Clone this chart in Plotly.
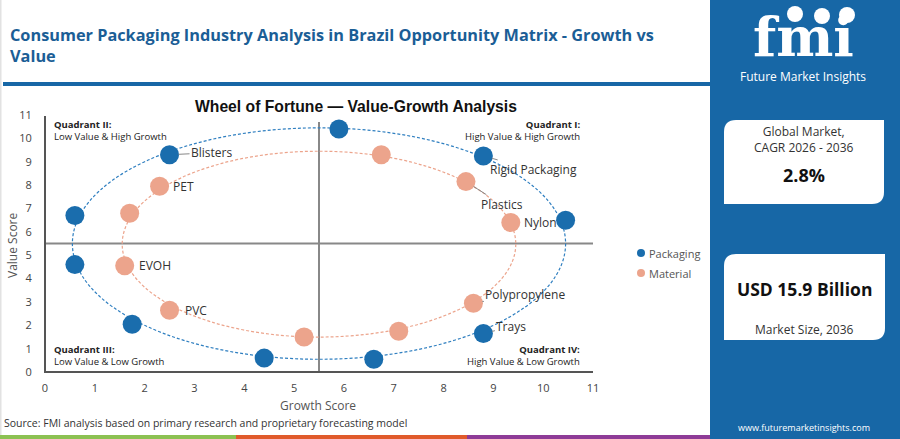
import plotly.graph_objects as go

# Packaging ring
packaging_growth = [5.9, 2.5, 8.8, 10.45, 0.6, 0.6, 1.75, 4.4, 6.6, 8.8]
packaging_value = [10.4, 9.3, 9.25, 6.5, 6.7, 4.6, 2.05, 0.6, 0.55, 1.65]
packaging_labels = ["", "Blisters", "Rigid Packaging", "", "", "", "", "", "", "Trays"]

# Material ring
material_growth = [6.75, 8.45, 9.35, 2.3, 1.7, 1.6, 2.5, 5.2, 7.1, 8.6]
material_value = [9.3, 8.15, 6.4, 7.95, 6.8, 4.55, 2.65, 1.5, 1.75, 2.95]
material_labels = ["", "Plastics", "Nylon", "PET", "", "EVOH", "PVC", "", "", "Polypropylene"]

x_ticks = list(range(0, 12))
y_ticks = list(range(0, 12))

BLUE = "#1a6dad"
SALMON = "#eca48c"
PANEL = "#1767a6"
TXT = "#333333"
FONT = "Open Sans"

W, H = 900, 439
ML, MR, MT, MB = 43, 307, 115, 65
PW, PH = W - ML - MR, H - MT - MB
X_RANGE = [-0.04, 11]
Y_RANGE = [-0.08, 11]


# pixel position in the picture -> paper coordinates (plot area based)
def px(x):
    return (x - ML) / PW


def py(y):
    return (H - MB - y) / PH


fig = go.Figure()

fig.add_trace(go.Scatter(
    x=packaging_growth, y=packaging_value, mode="markers", name="Packaging",
    marker=dict(size=19, color=BLUE), hoverinfo="skip"))
fig.add_trace(go.Scatter(
    x=material_growth, y=material_value, mode="markers", name="Material",
    marker=dict(size=19, color=SALMON), hoverinfo="skip"))

# label placement: (ax, ay, arrow)
label_pos = {
    "Blisters": (42, -2, True),
    "Rigid Packaging": (50, 14, True),
    "Trays": (28, -7, True),
    "Plastics": (36, 23, True),
    "Nylon": (30, 0, False),
    "PET": (24, 0, False),
    "EVOH": (30, 0, False),
    "PVC": (26, 0, False),
    "Polypropylene": (52, -9, True),
}

annotations = []
for gx, gy, lab in list(zip(packaging_growth, packaging_value, packaging_labels)) + \
        list(zip(material_growth, material_value, material_labels)):
    if not lab:
        continue
    ax, ay, arrow = label_pos[lab]
    if arrow:
        annotations.append(dict(x=gx, y=gy, text=lab, showarrow=True, arrowhead=0,
                                arrowwidth=1, arrowcolor="#888", ax=ax, ay=ay,
                                standoff=9, font=dict(size=12, color=TXT, family=FONT)))
    else:
        annotations.append(dict(x=gx, y=gy, text=lab, showarrow=False,
                                xshift=ax, font=dict(size=12, color=TXT, family=FONT)))

# quadrant labels
quads = [
    (0.14, 10.95, "left", "Quadrant II:", "Low Value & High Growth"),
    (10.77, 10.95, "right", "Quadrant I:", "High Value & High Growth"),
    (0.14, 1.35, "left", "Quadrant III:", "Low Value & Low Growth"),
    (10.77, 1.35, "right", "Quadrant IV:", "High Value & Low Growth"),
]
for qx, qy, anc, head, sub in quads:
    annotations.append(dict(x=qx, y=qy, xref="x", yref="y", xanchor=anc, yanchor="top",
                            align=anc, showarrow=False,
                            text=f"<b>{head}</b><br>{sub}",
                            font=dict(size=9.5, color="#222", family=FONT)))


def note(x, y, text, size, color, family=FONT, anchor="center", angle=0):
    return dict(x=px(x), y=py(y), xref="paper", yref="paper", xanchor=anchor,
                yanchor="middle", align=anchor if anchor != "center" else "center",
                showarrow=False, textangle=angle,
                text=text, font=dict(size=size, color=color, family=family))


annotations += [
    note(8, 45,
         "<b>Consumer Packaging Industry Analysis in Brazil Opportunity Matrix - Growth vs<br>Value</b>",
         16.3, "#1b5e96", anchor="left"),
    note(356, 106, "<b>Wheel of Fortune — Value-Growth Analysis</b>", 15.7, "#111",
         family="Liberation Sans"),
    note(318, 405, "Growth Score", 12, "#555"),
    note(12, 245, "Value Score", 12, "#555", angle=-90),
    note(2, 423, "Source: FMI analysis based on primary research and proprietary forecasting model",
         10.5, TXT, anchor="left"),
    # manual legend
    note(647, 253, "Packaging", 11, "#555", anchor="left"),
    note(647, 273, "Material", 11, "#555", anchor="left"),
    # right panel
    note(803, 37, "<b>fmi</b>", 54, "white", family="DejaVu Serif"),
    note(803, 76, "Future Market Insights", 12, "white"),
    note(804, 139, "Global Market,<br>CAGR 2026 - 2036", 12, TXT),
    note(804, 175, "<b>2.8%</b>", 18, "#111"),
    note(804, 289, "<b>USD 15.9 Billion</b>", 17.5, "#111"),
    note(804, 329, "Market Size, 2036", 12, TXT),
    note(804, 427, "www.futuremarketinsights.com", 9, "white"),
]


def card(x0, y0, x1, y1, r=12):
    rx, ry = r / PW, r / PH
    X0, X1, Y0, Y1 = px(x0), px(x1), py(y0), py(y1)
    return (f"M {X0 + rx},{Y0} L {X1},{Y0} L {X1},{Y1 + ry} Q {X1},{Y1} {X1 - rx},{Y1} "
            f"L {X0},{Y1} L {X0},{Y0 - ry} Q {X0},{Y0} {X0 + rx},{Y0} Z")


def rect(x0, y0, x1, y1, color, layer="below"):
    return dict(type="rect", xref="paper", yref="paper", x0=px(x0), x1=px(x1),
                y0=py(y1), y1=py(y0), fillcolor=color, line=dict(width=0), layer=layer)


def dot(cx, cy, r, color):
    return dict(type="circle", xref="paper", yref="paper",
                x0=px(cx - r), x1=px(cx + r), y0=py(cy + r), y1=py(cy - r),
                fillcolor=color, line=dict(width=0))


shapes = [
    # quadrant dividers
    dict(type="line", xref="x", yref="y", x0=5.5, x1=5.5, y0=0, y1=10.7,
         line=dict(color="#888", width=2), layer="below"),
    dict(type="line", xref="x", yref="y", x0=0, x1=11, y0=5.5, y1=5.5,
         line=dict(color="#888", width=2), layer="below"),
    # rings
    dict(type="circle", xref="x", yref="y", x0=0.55, x1=10.45, y0=0.55, y1=10.45,
         line=dict(color="#2f7fc0", width=1.2, dash="3px,2px"), layer="below"),
    dict(type="circle", xref="x", yref="y", x0=1.55, x1=9.45, y0=1.5, y1=9.45,
         line=dict(color=SALMON, width=1.2, dash="3px,2px"), layer="below"),
    # axis frame (left and bottom)
    rect(44, 116, 46, 373, "#555555", layer="above"),
    rect(44, 371, 593, 373, "#555555", layer="above"),
    # page edge
    rect(0, 0, 1.5, 439, "#e2e2e2"),
    # title rule
    rect(3, 82, 710, 86, PANEL),
    # bottom colour bar
    rect(0, 435, 236, 439, "#8cc152"),
    rect(236, 435, 467, 439, "#e05a2b"),
    rect(467, 435, 710, 439, "#8e3b97"),
    # right panel
    rect(710, 0, 900, 439, PANEL),
    dict(type="path", xref="paper", yref="paper", path=card(724, 120, 884, 204),
         fillcolor="white", line=dict(width=0), layer="below"),
    dict(type="path", xref="paper", yref="paper", path=card(724, 254, 885, 340),
         fillcolor="white", line=dict(width=0), layer="below"),
    # legend dots
    dot(641, 253, 4, BLUE),
    dot(641, 273, 4, SALMON),
]
# small globes of the logo
for cx, cy in ((795, 14), (822, 16), (847, 15)):
    shapes.append(dot(cx, cy, 8, "white"))

fig.update_layout(
    width=W, height=H,
    margin=dict(l=ML, r=MR, t=MT, b=MB, autoexpand=False),
    paper_bgcolor="white", plot_bgcolor="rgba(0,0,0,0)",
    font=dict(family=FONT, color="#555"),
    showlegend=False,
    xaxis=dict(range=X_RANGE, tickvals=x_ticks, showgrid=False, zeroline=False,
               showline=False, automargin=False,
               ticks="outside", ticklen=4, tickcolor="rgba(0,0,0,0)",
               tickfont=dict(size=11, color="#444")),
    yaxis=dict(range=Y_RANGE, tickvals=y_ticks, showgrid=False, zeroline=False,
               showline=False, automargin=False,
               ticks="outside", ticklen=8, tickcolor="rgba(0,0,0,0)",
               tickfont=dict(size=11, color="#444")),
    annotations=annotations,
    shapes=shapes,
)

fig.write_html("out.html", config={"displayModeBar": False},
               post_script="document.body.style.margin='0';")
